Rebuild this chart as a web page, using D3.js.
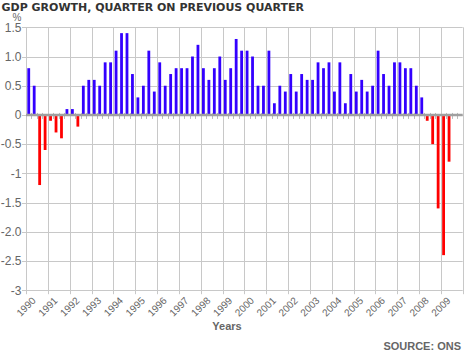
<!DOCTYPE html>
<html>
<head>
<meta charset="utf-8">
<script src="https://cdn.jsdelivr.net/npm/d3@7"></script>
<style>
  body { margin: 0; background: #fff; }
  svg { display: block; }
</style>
</head>
<body>
<div class="container"></div>
<script>
// quarterly GDP growth, % on previous quarter, 1990 Q1 .. 2009 Q2
const startYear = 1990;
const growth = [
    0.8, 0.5, -1.2, -0.6,   // 1990
    -0.1, -0.3, -0.4, 0.1,  // 1991
    0.1, -0.2, 0.5, 0.6,    // 1992
    0.6, 0.5, 0.9, 0.9,     // 1993
    1.1, 1.4, 1.4, 0.7,     // 1994
    0.3, 0.5, 1.1, 0.4,     // 1995
    0.9, 0.5, 0.7, 0.8,     // 1996
    0.8, 0.8, 1.0, 1.2,     // 1997
    0.8, 0.6, 0.8, 1.0,     // 1998
    0.6, 0.8, 1.3, 1.1,     // 1999
    1.1, 1.0, 0.5, 0.5,     // 2000
    1.1, 0.2, 0.5, 0.4,     // 2001
    0.7, 0.4, 0.7, 0.6,     // 2002
    0.6, 0.9, 0.8, 0.9,     // 2003
    0.4, 0.9, 0.2, 0.7,     // 2004
    0.4, 0.6, 0.4, 0.5,     // 2005
    1.1, 0.7, 0.5, 0.9,     // 2006
    0.9, 0.8, 0.8, 0.5,     // 2007
    0.3, -0.1, -0.5, -1.6,  // 2008
    -2.4, -0.8              // 2009
];

const yearLabels = d3.range(1990, 2010).map(String);
const yTicks = [1.5, 1.0, 0.5, 0, -0.5, -1, -1.5, -2, -2.5, -3];
const yTickLabels = ["1.5", "1.0", "0.5", "0", "-0.5", "-1", "-1.5", "-2.0", "-2.5", "-3"];

const W = 466, H = 351;
const gridColor = "#c8c8c8";
const textColor = "#666";

const svg = d3.select(".container")
    .append("svg")
    .attr("width", W)
    .attr("height", H)
    .style("font-family", "'Liberation Sans', Arial, sans-serif");

// scales
const x = d3.scaleLinear()
    .domain([1990, 2010])
    .range([26, 462.7]);

const y = d3.scaleLinear()
    .domain([-3, 1.5])
    .range([290.2, 27.3]);

// title
svg.append("text")
    .attr("x", 1.5)
    .attr("y", 10.5)
    .style("font-family", "'DejaVu Sans', Verdana, sans-serif")
    .style("font-size", "11px")
    .style("font-weight", "bold")
    .attr("fill", "#333")
    .text("GDP GROWTH, QUARTER ON PREVIOUS QUARTER");

svg.append("text")
    .attr("x", 17)
    .attr("y", 21)
    .attr("text-anchor", "middle")
    .style("font-size", "10px")
    .attr("fill", textColor)
    .text("%");

// horizontal grid lines
svg.append("g")
    .selectAll("line")
    .data(yTicks)
    .enter()
    .append("line")
    .attr("x1", 22)
    .attr("x2", x(2010))
    .attr("y1", d => Math.round(y(d)) + 0.5)
    .attr("y2", d => Math.round(y(d)) + 0.5)
    .attr("stroke", gridColor);

// vertical grid lines, one per year
svg.append("g")
    .selectAll("line")
    .data(d3.range(1990, 2011))
    .enter()
    .append("line")
    .attr("x1", d => Math.round(x(d)) + 0.5)
    .attr("x2", d => Math.round(x(d)) + 0.5)
    .attr("y1", y(1.5))
    .attr("y2", y(-3) + 4)
    .attr("stroke", gridColor);

// y axis labels
const yAxis = d3.axisLeft(y)
    .tickValues(yTicks)
    .tickFormat((d, i) => yTickLabels[i])
    .tickSize(0)
    .tickPadding(0);

const yAxisG = svg.append("g")
    .attr("transform", "translate(21.5, 0)")
    .call(yAxis);
yAxisG.select(".domain").remove();
yAxisG.selectAll("text")
    .style("font-size", "12px")
    .style("font-family", "'Liberation Sans', Arial, sans-serif")
    .attr("fill", textColor);

// bars
svg.append("g")
    .selectAll("rect")
    .data(growth)
    .enter()
    .append("rect")
    .attr("x", (d, i) => x(startYear + i / 4 + 0.125) - 1.4)
    .attr("width", 2.8)
    .attr("y", d => y(Math.max(0, d)))
    .attr("height", d => Math.abs(y(d) - y(0)))
    .attr("fill", d => d >= 0 ? "#3300ff" : "#ff0000");

// quarter ticks on the zero line
const quarterTicks = d3.range(1, 80).filter(k => k % 4 !== 0).map(k => 1990 + k / 4);
svg.append("g")
    .selectAll("line")
    .data(quarterTicks)
    .enter()
    .append("line")
    .attr("x1", d => Math.round(x(d)) + 0.5)
    .attr("x2", d => Math.round(x(d)) + 0.5)
    .attr("y1", y(0) - 2)
    .attr("y2", y(0) + 4)
    .attr("stroke", "#bbb");

// zero line
svg.append("line")
    .attr("x1", x(1990))
    .attr("x2", x(2010))
    .attr("y1", y(0))
    .attr("y2", y(0))
    .attr("stroke", "#a0a0a0")
    .attr("stroke-width", 2.5);

// x axis year labels, rotated
const xAxis = d3.axisBottom(x)
    .tickValues(yearLabels.map(d => +d + 0.5))
    .tickFormat((d, i) => yearLabels[i])
    .tickSize(0);

const xAxisG = svg.append("g")
    .attr("transform", `translate(0, ${y(-3)})`)
    .call(xAxis);
xAxisG.select(".domain").remove();
xAxisG.selectAll("text")
    .attr("y", 0)
    .attr("dy", 0)
    .attr("transform", "translate(-1, 11) rotate(-45)")
    .attr("text-anchor", "end")
    .style("font-size", "10px")
    .style("font-family", "'Liberation Sans', Arial, sans-serif")
    .attr("fill", textColor);

// axis title and source
svg.append("text")
    .attr("x", 227)
    .attr("y", 330)
    .attr("text-anchor", "middle")
    .style("font-size", "11px")
    .style("font-weight", "bold")
    .attr("fill", textColor)
    .text("Years");

svg.append("text")
    .attr("x", 461)
    .attr("y", 350)
    .attr("text-anchor", "end")
    .style("font-size", "11px")
    .style("font-weight", "bold")
    .attr("fill", textColor)
    .text("SOURCE: ONS");
</script>
</body>
</html>
